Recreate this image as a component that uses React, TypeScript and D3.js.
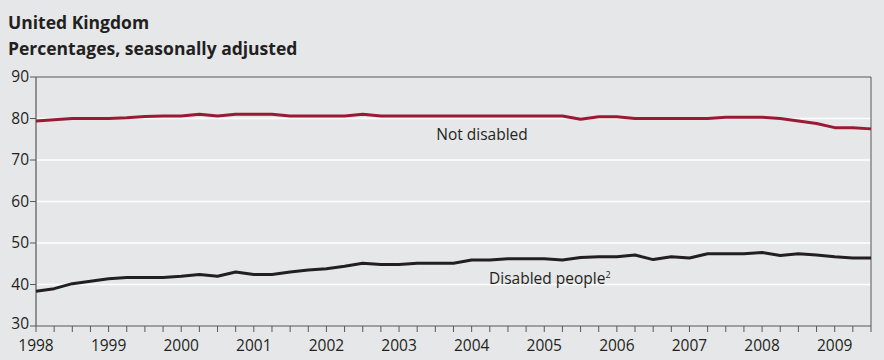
import React, { useEffect, useRef } from "react";
import * as d3 from "d3";

const titleLines = ["United Kingdom", "Percentages, seasonally adjusted"];
const yTicks = [30, 40, 50, 60, 70, 80, 90];
const yearLabels = [1998, 1999, 2000, 2001, 2002, 2003, 2004, 2005, 2006, 2007, 2008, 2009];
const startYear = 1998;
const notDisabled = [
  79.4, 79.7, 80.0, 80.0, 80.0, 80.2, 80.5, 80.6, 80.6, 81.0, 80.6, 81.0,
  81.0, 81.0, 80.6, 80.6, 80.6, 80.6, 81.0, 80.6, 80.6, 80.6, 80.6, 80.6,
  80.6, 80.6, 80.6, 80.6, 80.6, 80.6, 79.8, 80.4, 80.4, 80.0, 80.0, 80.0,
  80.0, 80.0, 80.3, 80.3, 80.3, 80.0, 79.4, 78.8, 77.8, 77.8, 77.5,
];
const disabled = [
  38.4, 39.0, 40.2, 40.8, 41.4, 41.7, 41.7, 41.7, 42.0, 42.4, 42.0, 43.0,
  42.4, 42.4, 43.0, 43.5, 43.8, 44.4, 45.1, 44.8, 44.8, 45.1, 45.1, 45.1,
  45.9, 45.9, 46.2, 46.2, 46.2, 45.9, 46.5, 46.7, 46.7, 47.1, 46.0, 46.7,
  46.4, 47.4, 47.4, 47.4, 47.7, 47.0, 47.4, 47.1, 46.7, 46.4, 46.4,
];
const seriesLabels = ["Not disabled", "Disabled people"];

const W = 884;
const H = 360;
const M = { left: 36, right: 871, top: 77, bottom: 326 };
const FONT = "'Open Sans', 'Noto Sans', sans-serif";
const BG = "#e6e7e9";
const RED = "#9b1a33";
const BLACK = "#231f20";
const AXIS = "#58585a";

export default function App() {
  const ref = useRef<SVGSVGElement>(null);

  useEffect(() => {
    const svg = d3.select(ref.current);
    svg.selectAll("*").remove();

    const n = notDisabled.length;
    const x = d3.scaleLinear().domain([startYear, startYear + (n - 1) / 4]).range([M.left, M.right]);
    const y = d3.scaleLinear().domain([30, 90]).range([M.bottom, M.top]);

    svg.append("rect").attr("width", W).attr("height", H).attr("fill", BG);

    // titles
    svg.selectAll("text.title")
      .data(titleLines)
      .enter()
      .append("text")
      .attr("x", 8)
      .attr("y", (_d, i) => 29 + i * 26)
      .attr("font-family", FONT)
      .attr("font-weight", 700)
      .attr("font-size", 17.5)
      .attr("fill", BLACK)
      .text((d) => d);

    // gridlines
    svg.selectAll("line.grid")
      .data(yTicks.filter((t) => t > 30 && t < 90))
      .enter()
      .append("line")
      .attr("x1", M.left)
      .attr("x2", M.right)
      .attr("y1", (d) => y(d))
      .attr("y2", (d) => y(d))
      .attr("stroke", "#ffffff")
      .attr("stroke-width", 1.6);

    // frame: top, right, left, bottom
    svg.append("line").attr("x1", M.left).attr("x2", M.right).attr("y1", M.top).attr("y2", M.top).attr("stroke", AXIS).attr("stroke-width", 1);
    svg.append("line").attr("x1", M.right).attr("x2", M.right).attr("y1", M.top).attr("y2", M.bottom).attr("stroke", AXIS).attr("stroke-width", 1);
    svg.append("line").attr("x1", M.left).attr("x2", M.left).attr("y1", M.top).attr("y2", M.bottom).attr("stroke", AXIS).attr("stroke-width", 1.2);
    svg.append("line").attr("x1", M.left).attr("x2", M.right).attr("y1", M.bottom).attr("y2", M.bottom).attr("stroke", AXIS).attr("stroke-width", 1.2);

    // y ticks and labels
    svg.selectAll("line.ytick")
      .data(yTicks)
      .enter()
      .append("line")
      .attr("x1", M.left - 6)
      .attr("x2", M.left)
      .attr("y1", (d) => y(d))
      .attr("y2", (d) => y(d))
      .attr("stroke", AXIS);
    svg.selectAll("text.ylab")
      .data(yTicks)
      .enter()
      .append("text")
      .attr("x", M.left - 7)
      .attr("y", (d) => y(d) - (d === 30 ? 2 : 0))
      .attr("dy", "0.34em")
      .attr("text-anchor", "end")
      .attr("font-family", FONT)
      .attr("font-size", 15.5)
      .attr("fill", BLACK)
      .text((d) => d);

    // x quarterly ticks
    const qt = d3.range(n).map((i) => startYear + i / 4);
    svg.selectAll("line.xtick")
      .data(qt)
      .enter()
      .append("line")
      .attr("x1", (d) => x(d))
      .attr("x2", (d) => x(d))
      .attr("y1", M.bottom)
      .attr("y2", M.bottom + 6)
      .attr("stroke", AXIS);
    svg.selectAll("text.xlab")
      .data(yearLabels)
      .enter()
      .append("text")
      .attr("x", (d) => x(d))
      .attr("y", 351)
      .attr("text-anchor", "middle")
      .attr("font-family", FONT)
      .attr("font-size", 15.5)
      .attr("fill", BLACK)
      .text((d) => d);

    const line = d3.line<number>().x((_d, i) => x(startYear + i / 4)).y((d) => y(d));

    svg.append("path").datum(notDisabled).attr("d", line).attr("fill", "none").attr("stroke", RED).attr("stroke-width", 3).attr("stroke-linejoin", "round");
    svg.append("path").datum(disabled).attr("d", line).attr("fill", "none").attr("stroke", BLACK).attr("stroke-width", 3).attr("stroke-linejoin", "round");

    svg.append("text")
      .attr("x", 482)
      .attr("y", 140)
      .attr("text-anchor", "middle")
      .attr("font-family", FONT)
      .attr("font-size", 15.5)
      .attr("fill", BLACK)
      .text(seriesLabels[0]);

    const t2 = svg.append("text")
      .attr("x", 489)
      .attr("y", 284)
      .attr("font-family", FONT)
      .attr("font-size", 15.5)
      .attr("fill", BLACK);
    t2.append("tspan").text(seriesLabels[1]);
    t2.append("tspan").attr("dy", -6).attr("font-size", 9).text("2");
  }, []);

  return (
    <svg
      ref={ref}
      width={W}
      height={H}
      style={{ position: "absolute", left: 0, top: 0, display: "block" }}
    />
  );
}
